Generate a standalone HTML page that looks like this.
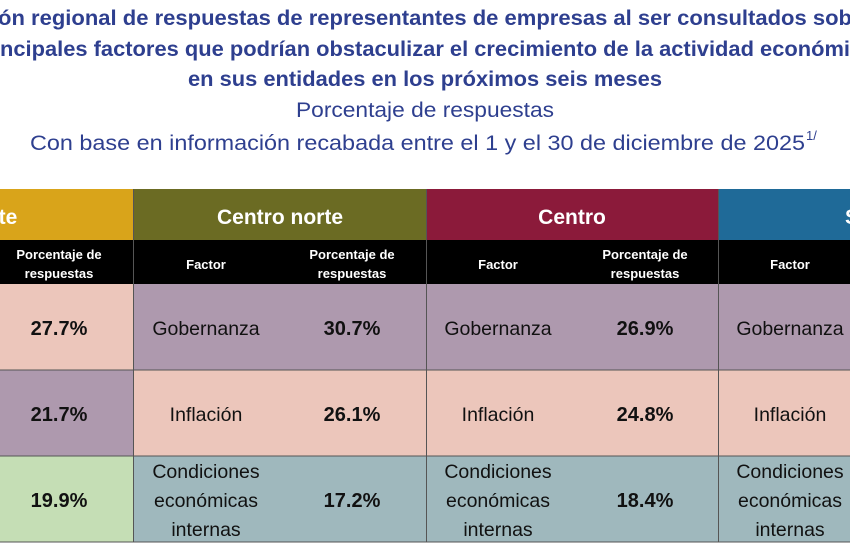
<!DOCTYPE html>
<html><head><meta charset="utf-8"><style>html,body{margin:0;padding:0;background:#fff;width:850px;height:550px;overflow:hidden}svg{display:block}</style></head><body>
<svg width="850" height="550" xmlns="http://www.w3.org/2000/svg" font-family="Liberation Sans, sans-serif">
<g fill="#2e3f8f">
<text x="-2" y="25" font-size="21" font-weight="bold" textLength="854" lengthAdjust="spacingAndGlyphs">ón regional de respuestas de representantes de empresas al ser consultados sob</text>
<text x="0" y="56" font-size="21" font-weight="bold" textLength="850" lengthAdjust="spacingAndGlyphs">ncipales factores que podrían obstaculizar el crecimiento de la actividad económi</text>
<text x="188" y="86" font-size="21" font-weight="bold" textLength="474" lengthAdjust="spacingAndGlyphs">en sus entidades en los próximos seis meses</text>
<text x="296" y="117" font-size="21" textLength="258" lengthAdjust="spacingAndGlyphs">Porcentaje de respuestas</text>
<text x="30" y="150" font-size="21" textLength="775" lengthAdjust="spacingAndGlyphs">Con base en información recabada entre el 1 y el 30 de diciembre de 2025</text>
<text x="806" y="140" font-size="13">1/</text>
</g>
<rect x="0" y="189" width="133" height="51" fill="#d9a41a"/>
<rect x="133" y="189" width="293" height="51" fill="#6b6b23"/>
<rect x="426" y="189" width="292" height="51" fill="#8b1a3a"/>
<rect x="718" y="189" width="132" height="51" fill="#1f6a98"/>
<g fill="#fff" font-size="21" font-weight="bold" text-anchor="middle">
<text x="8" y="224">te</text>
<text x="280" y="224">Centro norte</text>
<text x="572" y="224">Centro</text>
<text x="852" y="224">S</text>
</g>
<rect x="0" y="240" width="850" height="44" fill="#000"/>
<g fill="#fff" font-size="13" font-weight="bold" text-anchor="middle">
<text x="59" y="259">Porcentaje de</text><text x="59" y="278">respuestas</text>
<text x="206" y="269">Factor</text>
<text x="352" y="259">Porcentaje de</text><text x="352" y="278">respuestas</text>
<text x="498" y="269">Factor</text>
<text x="645" y="259">Porcentaje de</text><text x="645" y="278">respuestas</text>
<text x="790" y="269">Factor</text>
</g>
<rect x="0" y="284" width="133" height="86" fill="#ecc6bb"/>
<rect x="0" y="370" width="133" height="86" fill="#ae99ae"/>
<rect x="0" y="456" width="133" height="86" fill="#c5deb5"/>
<rect x="133" y="284" width="717" height="86" fill="#ae99ae"/>
<rect x="133" y="370" width="717" height="86" fill="#ecc6bb"/>
<rect x="133" y="456" width="717" height="86" fill="#9fb8bd"/>
<g stroke="#555" stroke-width="1">
<line x1="0" y1="370" x2="850" y2="370"/><line x1="0" y1="456" x2="850" y2="456"/><line x1="0" y1="542" x2="850" y2="542"/>
<line x1="133.5" y1="189" x2="133.5" y2="542"/><line x1="426.5" y1="189" x2="426.5" y2="542"/><line x1="718.5" y1="189" x2="718.5" y2="542"/>
</g>
<g fill="#111" font-size="20" font-weight="bold" text-anchor="middle">
<text x="59" y="335">27.7%</text><text x="59" y="421">21.7%</text><text x="59" y="507">19.9%</text>
<text x="352" y="335">30.7%</text><text x="352" y="421">26.1%</text><text x="352" y="507">17.2%</text>
<text x="645" y="335">26.9%</text><text x="645" y="421">24.8%</text><text x="645" y="507">18.4%</text>
</g>
<g fill="#111" font-size="19.5" text-anchor="middle">
<text x="206" y="335">Gobernanza</text><text x="206" y="421">Inflación</text>
<text x="206" y="478">Condiciones</text><text x="206" y="507">económicas</text><text x="206" y="536">internas</text>
<text x="498" y="335">Gobernanza</text><text x="498" y="421">Inflación</text>
<text x="498" y="478">Condiciones</text><text x="498" y="507">económicas</text><text x="498" y="536">internas</text>
<text x="790" y="335">Gobernanza</text><text x="790" y="421">Inflación</text>
<text x="790" y="478">Condiciones</text><text x="790" y="507">económicas</text><text x="790" y="536">internas</text>
</g>
</svg>
</body></html>
